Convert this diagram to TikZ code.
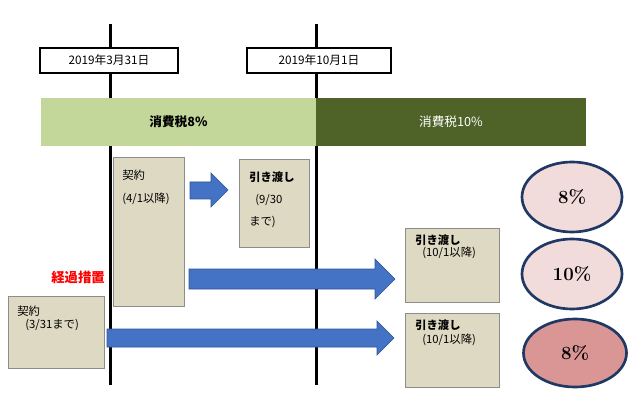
\documentclass[tikz,border=0pt]{standalone}
\usepackage{fontspec}
\usepackage{tikz}
\usetikzlibrary{shapes.geometric}
\newfontfamily\jpfont{Noto Sans CJK JP}
\definecolor{lightgreen}{HTML}{C4D79B}
\definecolor{darkgreen}{HTML}{4F6228}
\definecolor{boxtan}{HTML}{DDD9C3}
\definecolor{boxgray}{HTML}{8C8C8C}
\definecolor{arrowblue}{HTML}{4472C4}
\definecolor{arrowedge}{HTML}{2F5597}
\definecolor{ringblue}{HTML}{203864}
\definecolor{palepink}{HTML}{F2DCDB}
\definecolor{rosepink}{HTML}{D99694}

\begin{document}
\begin{tikzpicture}[x=0.75pt, y=-0.75pt,
    datebox/.style={draw, line width=1.2pt, fill=white, minimum height=18.75pt, font=\jpfont\fontsize{8.8}{10}\selectfont},
    tanbox/.style={draw=boxgray, line width=0.9pt, fill=boxtan, anchor=north west},
    boxtext/.style={anchor=west, inner sep=0pt, font=\jpfont\fontsize{8.5}{10}\selectfont},
    rate/.style={ellipse, draw=ringblue, line width=2pt, minimum width=75pt, minimum height=52.5pt, font=\bfseries\fontsize{14}{17}\selectfont},
    bigarrow/.style={fill=arrowblue, draw=arrowedge, line width=0.5pt}]
    \useasboundingbox (0,0) rectangle (634,416);

    % time lines
    \coordinate (leftTop) at (110,24);
    \coordinate (leftBottom) at (110,385);
    \coordinate (rightTop) at (316,24);
    \coordinate (rightBottom) at (316,385);
    \draw[line width=2.25pt] (leftTop) -- (leftBottom);
    \draw[line width=2.25pt] (rightTop) -- (rightBottom);

    \node[datebox, minimum width=103.5pt] (dateOld) at (109,60.5) {2019年3月31日};
    \node[datebox, minimum width=108pt] (dateNew) at (319,60.5) {2019年10月1日};

    % tax bar
    \fill[lightgreen] (41,98) rectangle (316,146);
    \fill[darkgreen] (316,98) rectangle (586,146);
    \node[font=\jpfont\bfseries\fontsize{9.5}{11}\selectfont] (taxOld) at (178.5,122) {消費税8\%};
    \node[font=\jpfont\fontsize{9.5}{11}\selectfont, text=white] (taxNew) at (451,122) {消費税10\%};

    % contracts and deliveries
    \node[tanbox, minimum width=53.25pt, minimum height=111.75pt] (contractNew) at (113,157) {};
    \node[boxtext] (contractNewA) at (122,175) {契約};
    \node[boxtext] (contractNewB) at (122,199) {(4/1以降)};

    \node[tanbox, minimum width=52.5pt, minimum height=66pt] (deliverEarly) at (239,159) {};
    \node[boxtext, font=\jpfont\bfseries\fontsize{8.5}{10}\selectfont] (deliverEarlyA) at (249,177) {引き渡し};
    \node[boxtext] (deliverEarlyB) at (255,200) {(9/30};
    \node[boxtext] (deliverEarlyC) at (249,222) {まで)};

    \node[tanbox, minimum width=72pt, minimum height=54pt] (contractOld) at (8,296) {};
    \node[boxtext] (contractOldA) at (17,311) {契約};
    \node[boxtext] (contractOldB) at (25,325) {(3/31まで)};

    \node[tanbox, minimum width=70.5pt, minimum height=55.5pt] (deliverLateA) at (405,228) {};
    \node[boxtext, font=\jpfont\bfseries\fontsize{8.5}{10}\selectfont] (deliverLateAa) at (415,240) {引き渡し};
    \node[boxtext] (deliverLateAb) at (422,253) {(10/1以降)};

    \node[tanbox, minimum width=70.5pt, minimum height=55.5pt] (deliverLateB) at (405,313) {};
    \node[boxtext, font=\jpfont\bfseries\fontsize{8.5}{10}\selectfont] (deliverLateBa) at (415,325) {引き渡し};
    \node[boxtext] (deliverLateBb) at (422,340) {(10/1以降)};

    \node[font=\jpfont\bfseries\fontsize{10}{12}\selectfont, text=red] (transition) at (78,277) {経過措置};

    % arrows
    \draw[bigarrow] (190,182) -- (211,182) -- (211,173) -- (228,190) -- (211,207) -- (211,199) -- (190,199) -- cycle;
    \draw[bigarrow] (189,269) -- (375,269) -- (375,259) -- (395,279) -- (375,299) -- (375,289) -- (189,289) -- cycle;
    \draw[bigarrow] (107,329) -- (377,329) -- (377,321) -- (394,338) -- (377,355) -- (377,347) -- (107,347) -- cycle;

    % rates
    \node[rate, fill=palepink] (rateA) at (572,197) {8\%};
    \node[rate, fill=palepink] (rateB) at (572,274) {10\%};
    \node[rate, fill=rosepink, minimum width=77.25pt, minimum height=51pt] (rateC) at (575,353) {8\%};
\end{tikzpicture}
\end{document}
